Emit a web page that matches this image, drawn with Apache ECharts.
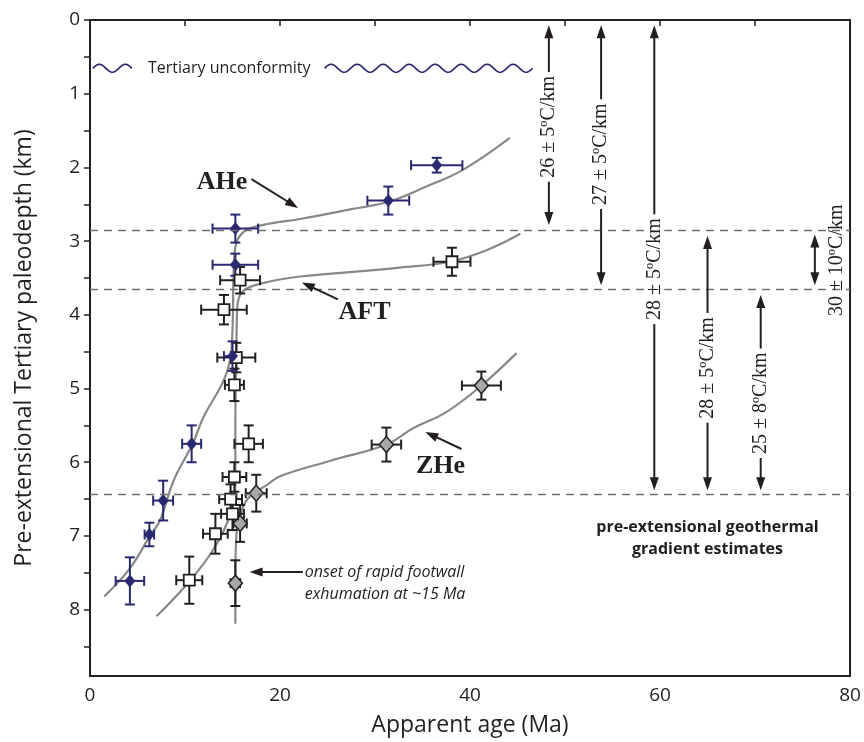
<!DOCTYPE html>
<html>
<head>
<meta charset="utf-8">
<script src="https://cdn.jsdelivr.net/npm/echarts@6/dist/echarts.min.js"></script>
<style>
html, body { margin: 0; padding: 0; background: #fff; }
#chart { width: 864px; height: 742px; }
</style>
</head>
<body>
<div id="chart"></div>
<script>
// samples: [apparent age Ma, paleodepth km, age error, depth error]
var aheData = [
    [36.5, 1.97, 2.7, 0.10],
    [31.4, 2.45, 2.2, 0.19],
    [15.3, 2.83, 2.4, 0.19],
    [15.3, 3.32, 2.4, 0.15],
    [15.0, 4.56, 0.9, 0.20],
    [10.7, 5.75, 1.0, 0.25],
    [7.7, 6.52, 1.05, 0.27],
    [6.25, 6.98, 0.5, 0.16],
    [4.2, 7.61, 1.5, 0.32]
];
var aftData = [
    [38.1, 3.28, 1.95, 0.19],
    [15.8, 3.53, 2.1, 0.18],
    [14.1, 3.93, 2.4, 0.20],
    [15.4, 4.58, 2.0, 0.20],
    [15.2, 4.95, 1.0, 0.22],
    [16.7, 5.75, 1.5, 0.25],
    [15.2, 6.20, 1.25, 0.20],
    [14.8, 6.50, 1.2, 0.20],
    [15.0, 6.70, 1.2, 0.22],
    [13.2, 6.97, 1.3, 0.27],
    [10.45, 7.60, 1.37, 0.32]
];
var zheData = [
    [41.2, 4.96, 2.05, 0.19],
    [31.2, 5.76, 1.55, 0.23],
    [17.5, 6.42, 1.1, 0.25],
    [15.8, 6.83, 0.7, 0.25],
    [15.3, 7.64, 0.5, 0.31]
];

// fitted curves [age, depth]
var aheCurve = [[44.2, 1.6], [39.3, 2.03], [35.4, 2.26], [31.6, 2.46], [27.4, 2.57], [22.1, 2.7], [18.2, 2.78],
    [16.2, 2.87], [15.3, 3.08], [15.1, 3.5], [15.0, 4.2], [14.4, 4.78], [11.9, 5.4], [10.8, 5.75], [8.8, 6.25],
    [7.4, 6.78], [6.3, 7.0], [4.2, 7.44], [1.5, 7.82]];
var aftCurve = [[45.3, 2.9], [41.8, 3.12], [37.9, 3.28], [32.6, 3.36], [27.4, 3.42], [22.1, 3.48], [18.2, 3.57],
    [16.1, 3.68], [15.5, 3.9], [15.4, 4.6], [15.3, 5.5], [15.3, 6.3], [14.7, 6.73], [13.0, 7.18], [10.5, 7.61], [7.0, 8.09]];
var zheCurve = [[44.9, 4.52], [41.2, 4.96], [37.5, 5.32], [34.0, 5.54], [31.2, 5.76], [25.3, 5.98], [20.0, 6.19],
    [18.6, 6.31], [16.8, 6.47], [16.0, 6.64], [15.4, 7.0], [15.3, 7.6], [15.3, 8.19]];

var dashDepths = [2.85, 3.65, 6.43];

// geothermal gradient arrows
var gradX = [48.3, 53.8, 59.4, 65.0, 70.6, 76.3];
var gradTop = [0.07, 0.07, 0.07, 2.93, 3.73, 2.91];
var gradBottom = [2.78, 3.6, 6.38, 6.38, 6.38, 3.6];
var gradLabels = ['26 ± 5ºC/km', '27 ± 5ºC/km', '28 ± 5ºC/km', '28 ± 5ºC/km', '25 ± 8ºC/km', '30 ± 10ºC/km'];
var gradLabelX = [48.3, 53.8, 59.4, 65.0, 70.6, 78.6];
var gradLabelY = [1.45, 1.82, 3.38, 4.72, 5.2, 3.26];

// unconformity
var unconfDepth = 0.655;
var unconfSegments = [[0.3, 4.5], [24.7, 46.6]];

// text annotations [age, depth]
var annoText = ['AHe', 'AFT', 'ZHe', 'Tertiary unconformity', 'onset of rapid footwall\nexhumation at ~15 Ma',
    'pre-extensional geothermal\ngradient estimates'];
var annoPos = [[13.9, 2.2], [28.9, 3.97], [36.9, 6.05], [6.1, 0.655], [22.6, 7.65], [65.0, 7.03]];
var pointers = [[17.0, 2.16, 21.9, 2.55], [26.1, 3.79, 22.3, 3.56], [39.1, 5.82, 35.3, 5.59], [22.4, 7.49, 16.8, 7.49]];

var ink = '#231f20';
var navy = '#2a2870';
var curveColor = '#888888';

var chart = echarts.init(document.getElementById('chart'));

function errorBars(color) {
    return function (params, api) {
        var x = api.value(0), y = api.value(1), ex = api.value(2), ey = api.value(3);
        var l = api.coord([x - ex, y]), r = api.coord([x + ex, y]);
        var t = api.coord([x, y - ey]), b = api.coord([x, y + ey]);
        var c = 5;
        var st = { stroke: color, lineWidth: 2 };
        return {
            type: 'group',
            children: [
                { type: 'line', shape: { x1: l[0], y1: l[1], x2: r[0], y2: r[1] }, style: st },
                { type: 'line', shape: { x1: l[0], y1: l[1] - c, x2: l[0], y2: l[1] + c }, style: st },
                { type: 'line', shape: { x1: r[0], y1: r[1] - c, x2: r[0], y2: r[1] + c }, style: st },
                { type: 'line', shape: { x1: t[0], y1: t[1], x2: b[0], y2: b[1] }, style: st },
                { type: 'line', shape: { x1: t[0] - c, y1: t[1], x2: t[0] + c, y2: t[1] }, style: st },
                { type: 'line', shape: { x1: b[0] - c, y1: b[1], x2: b[0] + c, y2: b[1] }, style: st }
            ]
        };
    };
}

function arrowHead(tip, dx, dy) {
    // dx,dy = unit direction the arrow points to
    var len = 13, w = 4.5;
    var bx = tip[0] - dx * len, by = tip[1] - dy * len;
    return {
        type: 'polygon',
        shape: { points: [[tip[0], tip[1]], [bx - dy * w, by + dx * w], [bx + dy * w, by - dx * w]] },
        style: { fill: ink }
    };
}

var gradRows = gradX.map(function (x, i) { return [x, gradTop[i], gradBottom[i], gradLabelX[i], gradLabelY[i], i]; });
var annoRows = annoPos.map(function (p, i) { return [p[0], p[1], i]; });
var waveRows = unconfSegments.map(function (s) { return [s[0], s[1], unconfDepth]; });

var option = {
    animation: false,
    grid: { left: 90, right: 14, top: 20, bottom: 52, show: true, borderColor: ink, borderWidth: 2 },
    xAxis: {
        type: 'value', min: 0, max: 80, interval: 10,
        name: 'Apparent age (Ma)', nameLocation: 'middle', nameGap: 38,
        nameTextStyle: { fontFamily: 'Open Sans', fontSize: 23, color: ink },
        axisLine: { lineStyle: { color: ink, width: 2 } },
        axisTick: { length: 6, lineStyle: { color: ink, width: 1.5 } },
        axisLabel: {
            fontFamily: 'Open Sans', fontSize: 19, color: ink, margin: 10,
            formatter: function (v) { return v % 20 === 0 ? String(v) : ''; }
        },
        splitLine: { show: false }
    },
    yAxis: {
        type: 'value', min: 0, max: 8.9, inverse: true,
        name: 'Pre-extensional Tertiary paleodepth (km)', nameLocation: 'middle', nameGap: 54,
        nameTextStyle: { fontFamily: 'Open Sans', fontSize: 23, color: ink },
        axisLine: { lineStyle: { color: ink, width: 2 } },
        axisTick: { length: 6, lineStyle: { color: ink, width: 1.5 },
            customValues: [0, 0.5, 1, 1.5, 2, 2.5, 3, 3.5, 4, 4.5, 5, 5.5, 6, 6.5, 7, 7.5, 8, 8.5] },
        axisLabel: { fontFamily: 'Open Sans', fontSize: 19, color: ink, margin: 10,
            customValues: [0, 1, 2, 3, 4, 5, 6, 7, 8] },
        splitLine: { show: false }
    },
    series: [
        {
            type: 'line', data: aheCurve, smooth: 0.4, showSymbol: false, silent: true,
            lineStyle: { color: curveColor, width: 2.2 }, z: 2,
            markLine: {
                silent: true, symbol: 'none', label: { show: false },
                lineStyle: { color: '#6f6f6f', width: 1.3, type: [8, 6] },
                data: dashDepths.map(function (d) { return { yAxis: d }; })
            }
        },
        { type: 'line', data: aftCurve, smooth: 0.4, showSymbol: false, silent: true, lineStyle: { color: curveColor, width: 2.2 }, z: 2 },
        { type: 'line', data: zheCurve, smooth: 0.4, showSymbol: false, silent: true, lineStyle: { color: curveColor, width: 2.2 }, z: 2 },
        { type: 'custom', data: zheData, renderItem: errorBars(ink), encode: { x: 0, y: 1 }, z: 3 },
        { type: 'custom', data: aftData, renderItem: errorBars(ink), encode: { x: 0, y: 1 }, z: 3 },
        { type: 'custom', data: aheData, renderItem: errorBars(navy), encode: { x: 0, y: 1 }, z: 3 },
        { type: 'scatter', data: zheData, symbol: 'diamond', symbolSize: [14, 16], z: 4,
            itemStyle: { color: '#a8a8a8', borderColor: ink, borderWidth: 1.5, opacity: 1 } },
        { type: 'scatter', data: aftData, symbol: 'rect', symbolSize: 11, z: 4,
            itemStyle: { color: '#fff', borderColor: ink, borderWidth: 1.8, opacity: 1 } },
        { type: 'scatter', data: aheData, symbol: 'diamond', symbolSize: [11, 13], z: 4,
            itemStyle: { color: navy, opacity: 1 } },
        {
            // unconformity wavy line
            type: 'custom', data: waveRows, z: 3, silent: true,
            renderItem: function (params, api) {
                var a = api.coord([api.value(0), api.value(2)]);
                var b = api.coord([api.value(1), api.value(2)]);
                var pts = [];
                for (var px = a[0]; px <= b[0]; px += 1) {
                    pts.push([px, a[1] - 4 * Math.sin(2 * Math.PI * (px - a[0]) / 26)]);
                }
                return { type: 'polyline', shape: { points: pts }, style: { stroke: navy, lineWidth: 1.7, fill: null } };
            }
        },
        {
            // geothermal gradient arrows
            type: 'custom', data: gradRows, z: 5, silent: true,
            renderItem: function (params, api) {
                var t = api.coord([api.value(0), api.value(1)]);
                var b = api.coord([api.value(0), api.value(2)]);
                var lp = api.coord([api.value(3), api.value(4)]);
                var i = api.value(5);
                var onLine = Math.abs(api.value(3) - api.value(0)) < 0.01;
                return {
                    type: 'group',
                    children: [
                        { type: 'line', shape: { x1: t[0], y1: t[1] + 8, x2: b[0], y2: b[1] - 8 }, style: { stroke: ink, lineWidth: 2 } },
                        arrowHead(t, 0, -1),
                        arrowHead(b, 0, 1),
                        {
                            type: 'text', x: lp[0], y: lp[1], rotation: Math.PI / 2, z2: 10,
                            style: {
                                text: gradLabels[i], align: 'center', verticalAlign: 'middle',
                                font: '20px "Liberation Serif", "Times New Roman", serif', fill: ink,
                                backgroundColor: onLine ? '#fff' : null, padding: [0, 4]
                            }
                        }
                    ]
                };
            }
        },
        {
            // pointer arrows
            type: 'custom', data: pointers, z: 5, silent: true,
            renderItem: function (params, api) {
                var p0 = api.coord([api.value(0), api.value(1)]);
                var p1 = api.coord([api.value(2), api.value(3)]);
                var dx = p1[0] - p0[0], dy = p1[1] - p0[1];
                var d = Math.sqrt(dx * dx + dy * dy);
                dx /= d; dy /= d;
                return {
                    type: 'group',
                    children: [
                        { type: 'line', shape: { x1: p0[0], y1: p0[1], x2: p1[0] - dx * 8, y2: p1[1] - dy * 8 }, style: { stroke: ink, lineWidth: 2 } },
                        arrowHead(p1, dx, dy)
                    ]
                };
            }
        },
        {
            // text annotations
            type: 'custom', data: annoRows, z: 6, silent: true,
            renderItem: function (params, api) {
                var p = api.coord([api.value(0), api.value(1)]);
                var i = api.value(2);
                var font, align = 'center', lh = 22;
                if (i < 3) font = 'bold 26px "Liberation Serif", "Times New Roman", serif';
                else if (i === 3) { font = '16px "Open Sans", sans-serif'; align = 'left'; }
                else if (i === 4) { font = 'italic 16px "Open Sans", sans-serif'; align = 'left'; }
                else font = 'bold 16px "Open Sans", sans-serif';
                return {
                    type: 'text', x: p[0], y: p[1],
                    style: { text: annoText[i], font: font, fill: ink, align: align, verticalAlign: 'middle', lineHeight: lh }
                };
            }
        }
    ]
};

chart.setOption(option);
</script>
</body>
</html>
